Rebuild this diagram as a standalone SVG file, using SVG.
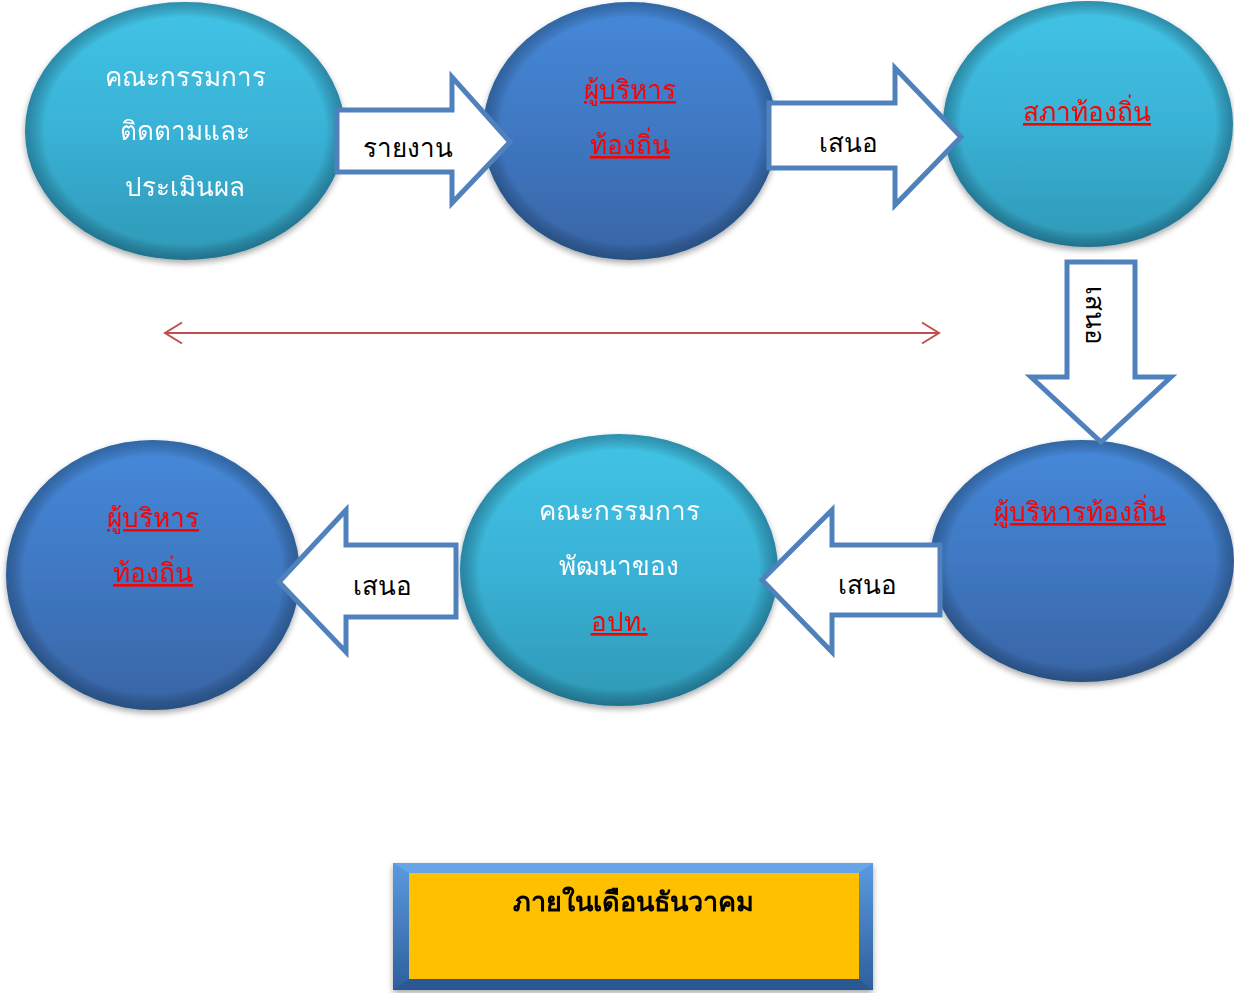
<svg xmlns="http://www.w3.org/2000/svg" width="1234" height="993" viewBox="0 0 1234 993">
<style>
.t{font-family:"Noto Sans","DejaVu Sans",sans-serif;font-size:26px;text-anchor:middle}
.w{fill:#ffffff}
.r{fill:#ff0000;text-decoration:underline}
.k{fill:#000000}
.arr{fill:#ffffff;stroke:#4f81bd;stroke-width:5;stroke-linejoin:miter}
.cy{fill:url(#gc)}
.bl{fill:url(#gb)}
.rim{fill:url(#rim)}
</style>
<defs>
<linearGradient id="gc" x1="0" y1="0" x2="0" y2="1">
<stop offset="0" stop-color="#42c4e6"/>
<stop offset="0.5" stop-color="#39b2d6"/>
<stop offset="1" stop-color="#2f98b6"/>
</linearGradient>
<linearGradient id="gb" x1="0" y1="0" x2="0" y2="1">
<stop offset="0" stop-color="#4689da"/>
<stop offset="0.5" stop-color="#3f78c2"/>
<stop offset="1" stop-color="#3864a4"/>
</linearGradient>
<radialGradient id="rim" cx="0.5" cy="0.5" r="0.5">
<stop offset="0.88" stop-color="#000000" stop-opacity="0"/>
<stop offset="1" stop-color="#0a2a40" stop-opacity="0.35"/>
</radialGradient>
<linearGradient id="bev" x1="0" y1="0" x2="0" y2="1">
<stop offset="0" stop-color="#5a9ae0"/>
<stop offset="1" stop-color="#2e5f9c"/>
</linearGradient>
<filter id="sh" x="-10%" y="-10%" width="120%" height="125%">
<feGaussianBlur in="SourceAlpha" stdDeviation="3"/>
<feOffset dy="3" result="b"/>
<feComponentTransfer><feFuncA type="linear" slope="0.35"/></feComponentTransfer>
<feMerge><feMergeNode/><feMergeNode in="SourceGraphic"/></feMerge>
</filter>
<marker id="open" viewBox="0 0 20 24" refX="18" refY="12" markerWidth="20" markerHeight="24" markerUnits="userSpaceOnUse" orient="auto-start-reverse">
<path d="M1,1.5 L18,12 L1,22.5" fill="none" stroke="#c0504d" stroke-width="2"/>
</marker>
</defs>
<rect width="1234" height="993" fill="#ffffff"/>

<g id="n1" filter="url(#sh)">
<ellipse class="cy" cx="185" cy="131" rx="160" ry="129"/>
<ellipse class="rim" cx="185" cy="131" rx="160" ry="129"/>
<text class="t w" x="185" y="86">คณะกรรมการ</text>
<text class="t w" x="185" y="140">ติดตามและ</text>
<text class="t w" x="185" y="196">ประเมินผล</text>
</g>

<g id="n2" filter="url(#sh)">
<ellipse class="bl" cx="630" cy="131" rx="147" ry="129"/>
<ellipse class="rim" cx="630" cy="131" rx="147" ry="129"/>
<text class="t r" x="630" y="99">ผู้บริหาร</text>
<text class="t r" x="630" y="154">ท้องถิ่น</text>
</g>

<g id="n3" filter="url(#sh)">
<ellipse class="cy" cx="1088" cy="124" rx="145" ry="123"/>
<ellipse class="rim" cx="1088" cy="124" rx="145" ry="123"/>
<text class="t r" x="1087" y="121">สภาท้องถิ่น</text>
</g>

<g id="n4" filter="url(#sh)">
<ellipse class="bl" cx="1082" cy="561" rx="152" ry="121"/>
<ellipse class="rim" cx="1082" cy="561" rx="152" ry="121"/>
<text class="t r" x="1080" y="521">ผู้บริหารท้องถิ่น</text>
</g>

<g id="n5" filter="url(#sh)">
<ellipse class="cy" cx="619" cy="570" rx="159" ry="136"/>
<ellipse class="rim" cx="619" cy="570" rx="159" ry="136"/>
<text class="t w" x="619" y="520">คณะกรรมการ</text>
<text class="t w" x="619" y="575">พัฒนาของ</text>
<text class="t r" x="619" y="631">อปท.</text>
</g>

<g id="n6" filter="url(#sh)">
<ellipse class="bl" cx="153" cy="575" rx="147" ry="135"/>
<ellipse class="rim" cx="153" cy="575" rx="147" ry="135"/>
<text class="t r" x="153" y="527">ผู้บริหาร</text>
<text class="t r" x="153" y="582">ท้องถิ่น</text>
</g>

<g id="connectors">
<g id="a1">
<path class="arr" d="M337,110 L452,110 L452,77 L510,142 L452,203 L452,172 L337,172 Z"/>
<text class="t k" x="408" y="157">รายงาน</text>
</g>
<g id="a2">
<path class="arr" d="M769,103 L895,103 L895,68 L961,137 L895,205 L895,168 L769,168 Z"/>
<text class="t k" x="848" y="152">เสนอ</text>
</g>
<g id="a3">
<path class="arr" d="M1067,262 L1135,262 L1135,377 L1171,377 L1101,442 L1031,377 L1067,377 Z"/>
<text class="t k" transform="translate(1086,315) rotate(90)" x="0" y="0">เสนอ</text>
</g>
<g id="a4">
<path class="arr" d="M940,545 L832,545 L832,510 L762,580 L832,652 L832,615 L940,615 Z"/>
<text class="t k" x="867" y="594">เสนอ</text>
</g>
<g id="a5">
<path class="arr" d="M456,545 L346,545 L346,510 L279,582 L346,652 L346,617 L456,617 Z"/>
<text class="t k" x="382" y="595">เสนอ</text>
</g>
<line id="dbl" x1="165" y1="333" x2="939" y2="333" stroke="#c0504d" stroke-width="2" marker-start="url(#open)" marker-end="url(#open)"/>
</g>

<g id="box" filter="url(#sh)">
<rect x="393" y="863" width="480" height="127" fill="url(#bev)"/>
<path d="M393,863 L873,863 L859,873 L409,873 Z" fill="#6aa8ea" opacity="0.8"/>
<path d="M393,990 L873,990 L859,979 L409,979 Z" fill="#2a5690" opacity="0.8"/>
<rect x="409" y="873" width="450" height="106" fill="#ffc000"/>
<text class="t k" x="633" y="911" style="font-weight:bold;font-size:27px">ภายในเดือนธันวาคม</text>
</g>
</svg>
